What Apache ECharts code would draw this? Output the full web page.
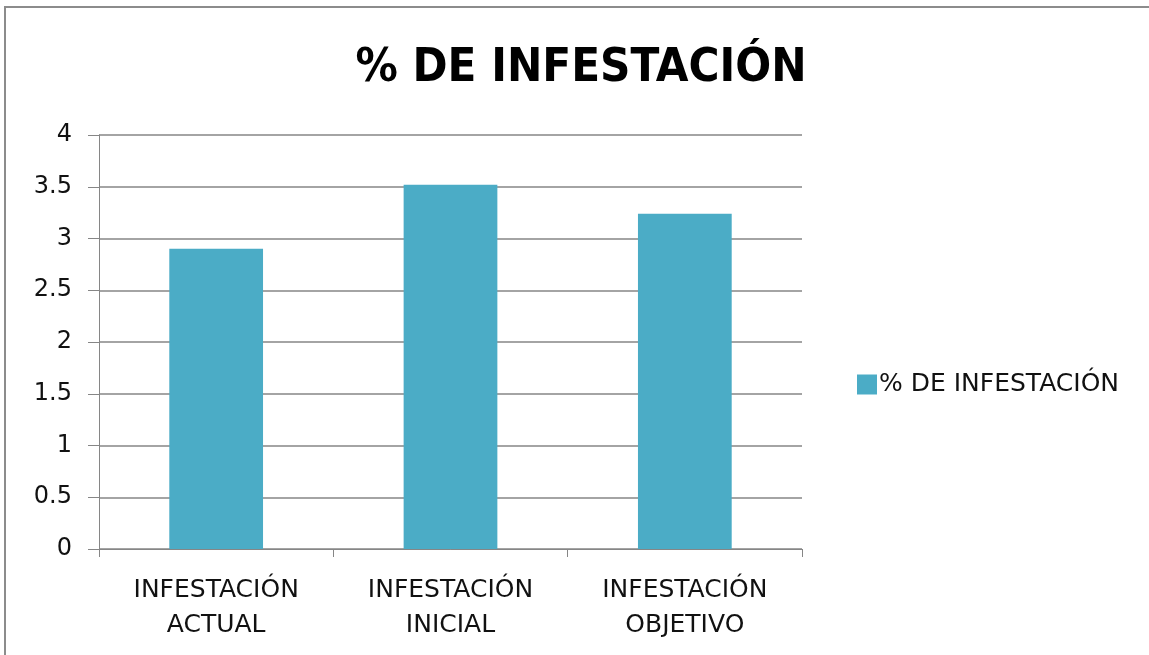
<!DOCTYPE html>
<html>
<head>
<meta charset="utf-8">
<script src="https://cdn.jsdelivr.net/npm/echarts@6/dist/echarts.min.js"></script>
<style>
html,body{margin:0;padding:0;background:#fff;}
#frame{position:absolute;left:4px;top:6px;width:1160px;height:660px;border:2px solid #8c8c8c;box-sizing:border-box;}
#chart{position:absolute;left:0;top:0;width:1149px;height:655px;}
</style>
</head>
<body>
<div id="frame"></div>
<div id="chart"></div>
<script>
const titleText = '% DE INFESTACIÓN';
const seriesName = '% DE INFESTACIÓN';
const categories = ['INFESTACIÓN\nACTUAL', 'INFESTACIÓN\nINICIAL', 'INFESTACIÓN\nOBJETIVO'];
const values = [2.90, 3.52, 3.24];
const yTicks = [0, 0.5, 1, 1.5, 2, 2.5, 3, 3.5, 4];

const labelFont = 'DejaVu Sans';
const chart = echarts.init(document.getElementById('chart'), null, {renderer: 'canvas'});
chart.setOption({
  animation: false,
  backgroundColor: 'transparent',
  title: {
    text: titleText,
    left: 576, top: 40, textAlign: 'center',
    textStyle: {fontFamily: '"DejaVu Sans Condensed", Lato', fontWeight: 'bold', fontSize: 47, color: '#000'}
  },
  legend: {
    data: [seriesName],
    left: 852, top: 367,
    itemWidth: 20, itemHeight: 20, itemGap: 4,
    icon: 'rect',
    textStyle: {fontFamily: labelFont, fontSize: 25, color: '#111', padding: [0,0,0,-3]}
  },
  grid: {left: 99, right: 347, top: 135, bottom: 106, containLabel: false},
  xAxis: {
    type: 'category',
    data: categories,
    axisLine: {lineStyle: {color: '#868686', width: 1}},
    axisTick: {show: true, length: 8, lineStyle: {color: '#868686'}},
    axisLabel: {fontFamily: labelFont, fontSize: 25, color: '#111', lineHeight: 35, margin: 24}
  },
  yAxis: {
    type: 'value',
    min: 0, max: 4, interval: 0.5,
    axisLine: {show: true, lineStyle: {color: '#868686', width: 1}},
    axisTick: {show: true, length: 11, lineStyle: {color: '#868686'}},
    splitLine: {lineStyle: {color: '#868686', width: 1.5}},
    axisLabel: {fontFamily: labelFont, fontSize: 24, color: '#111', margin: 27,
      formatter: v => yTicks.includes(v) ? String(v) : ''}
  },
  series: [{
    name: seriesName,
    type: 'bar',
    data: values,
    barWidth: '40%',
    itemStyle: {color: '#4BACC6'}
  }]
});
</script>
</body>
</html>
